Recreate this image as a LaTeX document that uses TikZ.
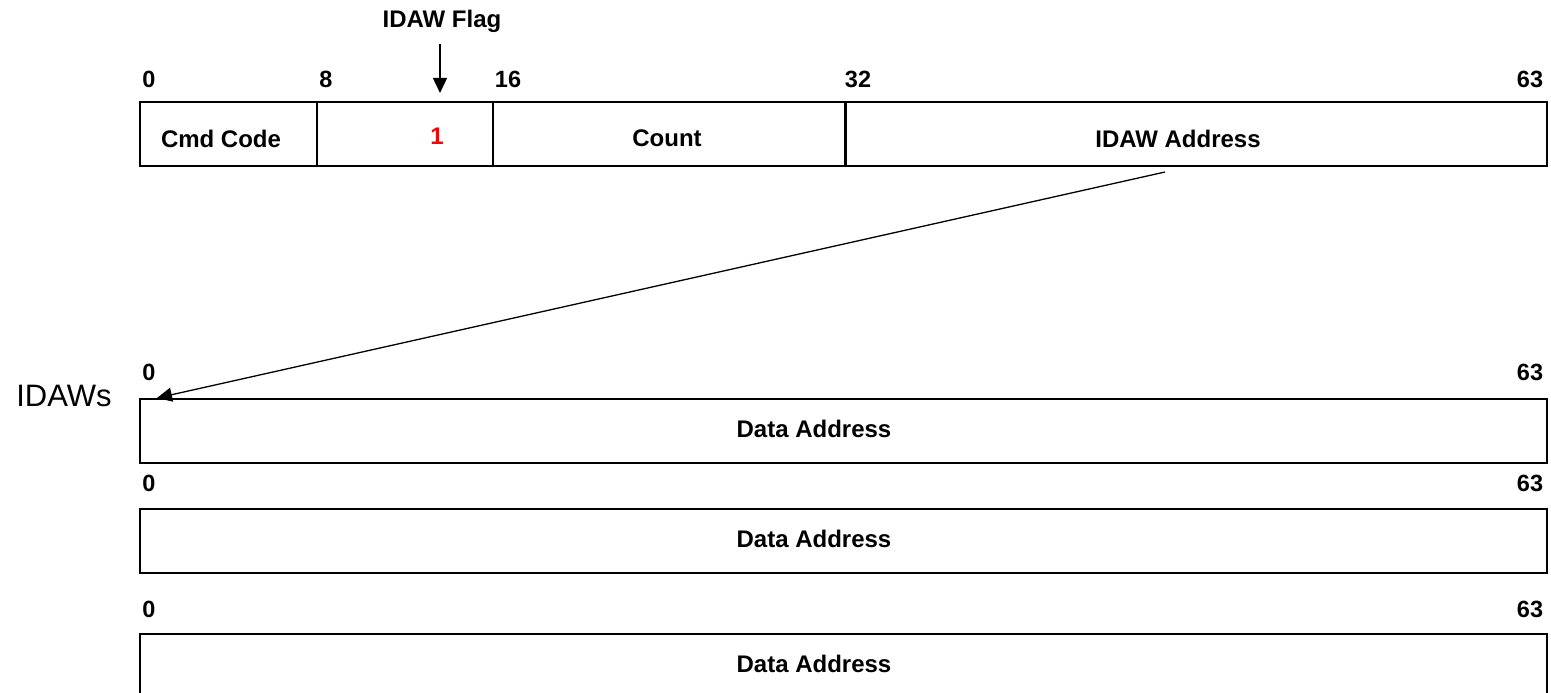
\documentclass[tikz,border=0pt]{standalone}
\usepackage{fontspec}
\setmainfont{Liberation Sans}
\usetikzlibrary{arrows.meta}
\begin{document}
\begin{tikzpicture}[x=1pt,y=-1pt,
  field/.style={draw,line width=1.6pt,minimum height=64pt,inner sep=0pt,anchor=north west},
  lbl/.style={font=\bfseries\fontsize{24}{26}\selectfont,inner sep=0pt},
  bit/.style={font=\bfseries\fontsize{23.5}{25}\selectfont,inner sep=0pt},
  arr/.style={line width=1.3pt,-{Triangle[length=15pt,width=14pt]}}]
\clip (0,0) rectangle (1551,693);
\fill[white] (0,0) rectangle (1551,693);
% top CCW
\node[field,minimum width=177pt] (cmd) at (139,101) {};
\node[field,minimum width=176pt] (flag) at (316,101) {};
\node[field,minimum width=353pt] (count) at (492,101) {};
\node[field,minimum width=701pt] (addr) at (845,101) {};
\draw[line width=2.6pt] (addr.north west) -- (addr.south west);
\node[lbl] (tcmd) at (221,138.5) {Cmd Code};
\node[lbl,text=red] (tflag) at (437,136) {1};
\node[lbl] (tcount) at (667,138.5) {Count};
\node[lbl] (taddr) at (1178,138.5) {IDAW Address};
\node[bit] (b0) at (149,79) {0};
\node[bit] (b8) at (326,79) {8};
\node[bit] (b16) at (508,79) {16};
\node[bit] (b32) at (858,79) {32};
\node[bit] (b63) at (1530,79) {63};
\node[lbl] (flagtxt) at (442,21) {IDAW Flag};
\coordinate (fa) at (440,44);
\coordinate (fb) at (440,93);
\draw[arr] (fa) -- (fb);
% IDAWs
\node[font=\fontsize{31}{34}\selectfont,inner sep=0pt] (idaws) at (64,396) {IDAWs};
\node[field,minimum width=1407pt] (w1) at (139,398) {};
\node[field,minimum width=1407pt] (w2) at (139,508) {};
\node[field,minimum width=1407pt] (w3) at (139,633) {};
\node[lbl] (d1) at (814,429) {Data Address};
\node[lbl] (d2) at (814,539) {Data Address};
\node[lbl] (d3) at (814,664) {Data Address};
\node[bit] (w1a) at (149,372) {0};
\node[bit] (w1b) at (1530,372) {63};
\node[bit] (w2a) at (149,483) {0};
\node[bit] (w2b) at (1530,483) {63};
\node[bit] (w3a) at (149,609) {0};
\node[bit] (w3b) at (1530,609) {63};
\coordinate (as) at (1165,172);
\draw[arr] (as) -- ([xshift=18pt]w1.north west);
\end{tikzpicture}
\end{document}
